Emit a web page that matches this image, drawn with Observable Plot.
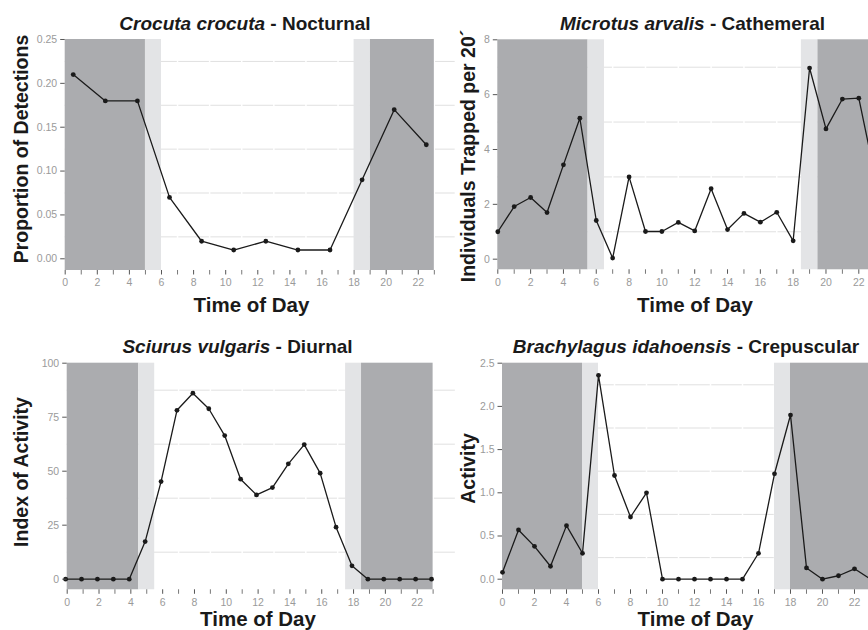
<!DOCTYPE html>
<html><head><meta charset="utf-8">
<script src="https://cdn.jsdelivr.net/npm/d3@7"></script>
<script src="https://cdn.jsdelivr.net/npm/@observablehq/plot@0.6"></script>
<style>
html,body{margin:0;padding:0;background:#fff;width:868px;height:630px;overflow:hidden;}
#root{position:relative;width:868px;height:630px;overflow:hidden;background:#fff;}
</style></head><body><div id="root"></div>
<script>
// ---------- DATA ----------
const crocutaHours = [0.5, 2.5, 4.5, 6.5, 8.5, 10.5, 12.5, 14.5, 16.5, 18.5, 20.5, 22.5];
const crocutaValues = [0.21, 0.18, 0.18, 0.07, 0.02, 0.01, 0.02, 0.01, 0.01, 0.09, 0.17, 0.13];
const crocutaNight = [[0, 5], [19, 23]];
const crocutaTwilight = [[5, 6], [18, 19]];

const microtusHours = [0,1,2,3,4,5,6,7,8,9,10,11,12,13,14,15,16,17,18,19,20,21,22,23];
const microtusValues = [1.0, 1.92, 2.25, 1.70, 3.44, 5.14, 1.41, 0.04, 3.0, 1.01, 1.01, 1.34, 1.03, 2.57, 1.08, 1.67, 1.35, 1.71, 0.67, 6.97, 4.75, 5.84, 5.87, 3.0];
const microtusNight = [[0, 5.5], [19.5, 23]];
const microtusTwilight = [[5.5, 6.5], [18.5, 19.5]];

const sciurusHours = [-0.1,0.9,1.9,2.9,3.9,4.9,5.9,6.9,7.9,8.9,9.9,10.9,11.9,12.9,13.9,14.9,15.9,16.9,17.9,18.9,19.9,20.9,21.9,22.9];
const sciurusValues = [0, 0, 0, 0, 0, 17.4, 45.2, 78.2, 86.1, 78.9, 66.5, 46.3, 39.0, 42.4, 53.4, 62.3, 49.1, 24.1, 6.2, 0, 0, 0, 0, 0];
const sciurusNight = [[0, 4.5], [18.5, 23]];
const sciurusTwilight = [[4.5, 5.5], [17.5, 18.5]];

const brachyHours = [0,1,2,3,4,5,6,7,8,9,10,11,12,13,14,15,16,17,18,19,20,21,22,23];
const brachyValues = [0.08, 0.57, 0.38, 0.15, 0.62, 0.30, 2.36, 1.20, 0.72, 1.0, 0, 0, 0, 0, 0, 0, 0.30, 1.22, 1.90, 0.13, 0, 0.04, 0.12, 0.0];
const brachyNight = [[0, 5], [18, 23]];
const brachyTwilight = [[5, 6], [17, 18]];

const xTickLabels = [0, 2, 4, 6, 8, 10, 12, 14, 16, 18, 20, 22];
const xMinorTicks = [1, 3, 5, 7, 9, 11, 13, 15, 17, 19, 21, 23];

const crocutaYTicks = [0, 0.05, 0.10, 0.15, 0.20, 0.25];
const crocutaYMinor = [0.025, 0.075, 0.125, 0.175, 0.225];
const microtusYTicks = [0, 2, 4, 6, 8];
const microtusYMinor = [1, 3, 5, 7];
const sciurusYTicks = [0, 25, 50, 75, 100];
const sciurusYMinor = [12.5, 37.5, 62.5, 87.5];
const brachyYTicks = [0, 0.5, 1.0, 1.5, 2.0, 2.5];
const brachyYMinor = [0.25, 0.75, 1.25, 1.75, 2.25];

const titleSpecies = ["Crocuta crocuta", "Microtus arvalis", "Sciurus vulgaris", "Brachylagus idahoensis"];
const titlePattern = ["- Nocturnal", "- Cathemeral", "- Diurnal", "- Crepuscular"];
const yLabels = ["Proportion of Detections", "Individuals Trapped per 20\u00b4", "Index of Activity", "Activity"];
const xLabel = "Time of Day";

// ---------- LAYOUT ----------
const FONT = "'Liberation Sans', Arial, Helvetica, sans-serif";
const DARK = "#abacaf", LIGHT = "#e3e4e6", INK = "#1a1a1a";
const root = document.getElementById("root");

function panel(cfg) {
  const pxPerUnit = (cfg.yZeroPx - cfg.yTopPx) / cfg.yTopVal;
  const yBottomVal = -(cfg.yBottomPx - cfg.yZeroPx) / pxPerUnit;
  const marginLeft = cfg.x0px - cfg.left;
  const marginTop = cfg.yTopPx - cfg.top;
  const marginBottom = 30;
  const width = marginLeft + cfg.xMax * cfg.pxh;
  const height = marginTop + (cfg.yBottomPx - cfg.yTopPx) + marginBottom;
  const pts = cfg.hours.map((h, i) => ({h, v: cfg.values[i]}));
  const rectOf = arr => arr.map(([a, b]) => ({a, b}));
  const svg = Plot.plot({
    width, height, marginLeft, marginTop, marginBottom, marginRight: 0,
    x: {domain: [0, cfg.xMax], axis: null},
    y: {domain: [yBottomVal, cfg.yTopVal], axis: null},
    style: {background: "transparent", overflow: "visible", fontFamily: FONT, fontSize: "10.5px"},
    marks: [
      Plot.ruleY(cfg.yMinor, {stroke: "#e0e0e0", strokeWidth: 1}),
      Plot.ruleX(xMinorTicks, {stroke: "white", strokeWidth: 1.5}),
      Plot.rect(rectOf(cfg.night), {x1: "a", x2: "b", y1: () => yBottomVal, y2: () => cfg.yTopVal, fill: DARK}),
      Plot.rect(rectOf(cfg.twilight), {x1: "a", x2: "b", y1: () => yBottomVal, y2: () => cfg.yTopVal, fill: LIGHT}),
      Plot.line(pts, {x: "h", y: "v", stroke: INK, strokeWidth: 1.3}),
      Plot.dot(pts, {x: "h", y: "v", r: 2.4, fill: INK, stroke: "none"}),
      Plot.axisX(xTickLabels, {anchor: "bottom", tickSize: 4.5, tickPadding: 4, stroke: "#555", fill: "#9a9a9a", tickFormat: d => String(d), label: null}),
      Plot.axisX(xMinorTicks, {anchor: "bottom", tickSize: 4.5, tickPadding: 4, stroke: "#777", fill: "none", tickFormat: () => "", label: null}),
      Plot.axisY(cfg.yTicks, {anchor: "left", tickSize: 4.5, tickPadding: 3.5, stroke: "#555", fill: "#9a9a9a", tickFormat: cfg.fmt, label: null})
    ]
  });
  svg.style.position = "absolute";
  svg.style.left = cfg.left + "px";
  svg.style.top = cfg.top + "px";
  svg.style.maxWidth = "none";
  root.appendChild(svg);
}

panel({left: 0, top: 0, x0px: 64.7, pxh: 16.05, xMax: 24.3, yTopPx: 39, yTopVal: 0.25, yZeroPx: 258.3, yBottomPx: 270,
  hours: crocutaHours, values: crocutaValues, night: crocutaNight, twilight: crocutaTwilight,
  yTicks: crocutaYTicks, yMinor: crocutaYMinor, fmt: d => d.toFixed(2)});
panel({left: 434, top: 0, x0px: 497.3, pxh: 16.41, xMax: 23.5, yTopPx: 39.3, yTopVal: 8, yZeroPx: 258.7, yBottomPx: 269.3,
  hours: microtusHours, values: microtusValues, night: microtusNight, twilight: microtusTwilight,
  yTicks: microtusYTicks, yMinor: microtusYMinor, fmt: d => String(d)});
panel({left: 0, top: 310, x0px: 66.7, pxh: 15.91, xMax: 24.4, yTopPx: 362.7, yTopVal: 100, yZeroPx: 578.7, yBottomPx: 589.3,
  hours: sciurusHours, values: sciurusValues, night: sciurusNight, twilight: sciurusTwilight,
  yTicks: sciurusYTicks, yMinor: sciurusYMinor, fmt: d => String(d)});
panel({left: 434, top: 310, x0px: 502, pxh: 16.0, xMax: 23.5, yTopPx: 362.7, yTopVal: 2.5, yZeroPx: 578.7, yBottomPx: 589.3,
  hours: brachyHours, values: brachyValues, night: brachyNight, twilight: brachyTwilight,
  yTicks: brachyYTicks, yMinor: brachyYMinor, fmt: d => d.toFixed(1)});

// ---------- TEXT OVERLAY ----------
const ov = d3.select(root).append("svg")
  .attr("width", 868).attr("height", 630)
  .style("position", "absolute").style("left", "0px").style("top", "0px")
  .style("pointer-events", "none")
  .attr("font-family", FONT).attr("fill", INK).attr("font-weight", "bold");

const titlePos = [[245, 30], [692.5, 30], [237.5, 352.7], [686, 352.7]];
titlePos.forEach(([x, y], i) => {
  const t = ov.append("text").attr("x", x).attr("y", y).attr("text-anchor", "middle").attr("font-size", 19);
  t.append("tspan").attr("font-style", "italic").text(titleSpecies[i]);
  t.append("tspan").text(" " + titlePattern[i]);
});

const xLabPos = [[251.5, 312], [695, 312], [258, 626], [695.5, 626]];
xLabPos.forEach(([x, y]) => {
  ov.append("text").attr("x", x).attr("y", y).attr("text-anchor", "middle").attr("font-size", 20.5).text(xLabel);
});

const yLabPos = [[27.5, 149], [474.8, 156], [27.5, 472], [475, 468.5]];
yLabPos.forEach(([x, y], i) => {
  ov.append("text").attr("transform", `translate(${x},${y}) rotate(-90)`)
    .attr("text-anchor", "middle").attr("font-size", 19.5).text(yLabels[i]);
});
</script>
</body></html>
